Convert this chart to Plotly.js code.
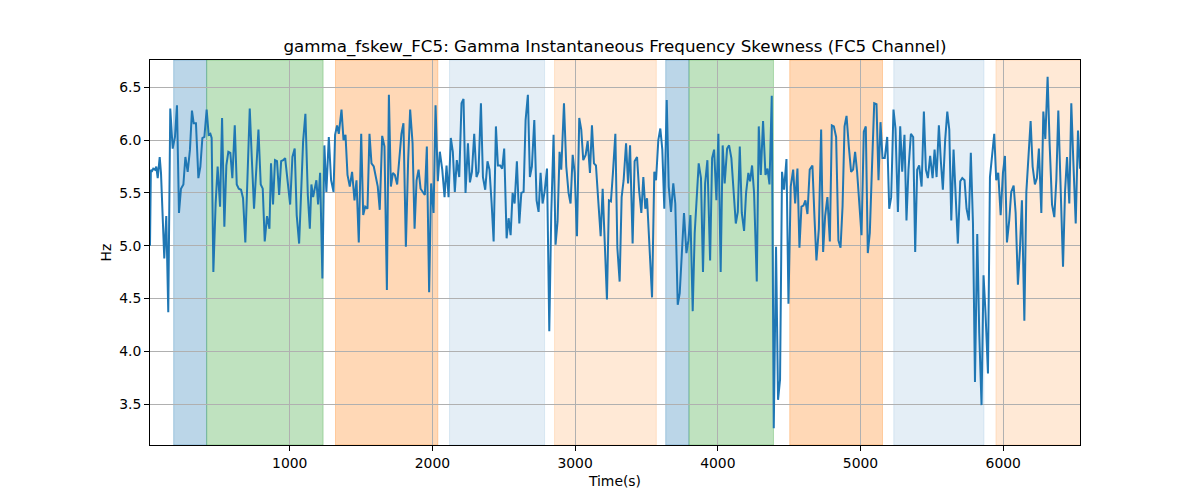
<!DOCTYPE html>
<html>
<head>
<meta charset="utf-8">
<script src="https://cdn.plot.ly/plotly-3.0.1.min.js"></script>
<style>
  body { margin: 0; background: #fff; }
  #chart { width: 1200px; height: 500px; }
</style>
</head>
<body>
<div id="chart"></div>
<script>
const chart_title = "gamma_fskew_FC5: Gamma Instantaneous Frequency Skewness (FC5 Channel)";
const x_label = "Time(s)";
const y_label = "Hz";

// sample times (s)
const times = [
    21,27,33,44,56,65,75,89,98,110,121,135,149,163,180,196,210,224,238,255,269,
    285,301,315,327,343,360,374,388,402,418,432,444,453,465,481,495,512,526,542,556,
    570,584,598,615,629,643,659,673,689,706,720,734,750,767,781,797,811,825,841,858,
    869,883,897,911,926,940,954,968,986,1003,1019,1035,1049,1066,1080,1094,1110,1127,1141,1152,
    1164,1176,1187,1199,1213,1229,1243,1257,1274,1290,1307,1318,1332,1344,1363,1377,1391,1405,1421,1437,
    1454,1468,1484,1501,1515,1529,1545,1559,1573,1589,1603,1617,1631,1648,1664,1681,1695,
    1709,1723,1737,1753,1769,1783,1797,1814,1830,1844,1861,1875,1889,1903,1917,1933,1947,1961,1977,1991,
    2008,2022,2038,2052,2069,2085,2099,2113,2129,2143,2157,2171,2188,2204,2218,2232,2249,2263,2277,2293,
    2309,2323,2340,2354,2370,2386,2400,2415,2429,2445,2459,2475,2489,2503,2520,2534,
    2548,2562,2576,2592,2609,2623,2639,2653,2669,2683,2697,2714,2730,2744,2758,2772,2786,2803,2819,2833,
    2849,2863,2877,2891,2903,2922,2938,2954,2968,2983,2997,3013,3029,3043,3057,3074,3088,3104,3118,3132,
    3146,3162,3179,3193,3207,3223,3237,3251,3265,3282,3296,3312,3326,3340,3357,3371,
    3385,3403,3417,3434,3448,3464,3478,3492,3504,3520,3539,3555,3567,3583,3597,3611,3625,3642,3656,3672,
    3688,3702,3719,3733,3749,3763,3780,3794,3808,3824,3838,3852,3866,3882,3896,3911,3927,3946,3960,3974,
    3990,4004,4020,4034,4048,4065,4079,4095,4109,4126,4140,4154,4168,4184,4198,4214,
    4226,4240,4254,4273,4287,4301,4317,4334,4348,4362,4378,4392,4408,4422,4436,4450,4464,4481,4495,4511,
    4528,4542,4558,4572,4586,4600,4614,4628,4644,4663,4677,4691,4708,4724,4738,4752,4768,4785,4799,4813,
    4829,4845,4860,4874,4888,4902,4918,4934,4948,4962,4976,4993,5007,5023,5037,5051,5065,
    5079,5096,5112,5126,5140,5154,5170,5187,5201,5215,5231,5245,5262,5278,5292,5308,5322,5336,5353,5369,
    5383,5397,5411,5428,5444,5458,5472,5488,5505,5519,5533,5549,5563,5577,5593,5608,5622,5636,5652,5668,
    5682,5699,5713,5729,5743,5759,5773,5788,5802,5818,5832,5848,5862,5876,5893,5907,
    5923,5937,5951,5965,5982,5998,6012,6026,6042,6056,6073,6087,6103,6117,6131,6148,6162,6176,6192,6206,
    6222,6236,6250,6267,6281,6295,6311,6325,6342,6358,6372,6386,6402,6419,6433,6447,6463,6477,6491,6508,
    6524,6538
];

// skewness values (Hz)
const skew_values = [
    5.00,5.72,5.70,5.73,5.72,5.75,5.64,5.84,5.69,5.24,4.88,5.28,4.37,6.30,5.92,6.03,6.33,5.31,5.54,5.58,5.84,
    5.70,5.91,6.28,6.16,6.16,5.64,5.75,6.02,6.03,6.29,6.05,6.06,6.02,4.75,5.40,5.75,5.37,6.21,5.18,5.76,
    5.89,5.88,5.64,6.14,5.58,5.54,5.53,5.45,5.03,5.64,6.30,5.84,5.35,5.75,6.10,5.58,5.54,5.04,5.28,5.16,
    5.78,5.39,5.81,5.80,5.48,5.80,5.81,5.83,5.61,5.39,5.84,5.92,5.29,5.02,5.50,5.99,6.25,5.48,5.16,5.58,
    5.46,5.56,5.62,5.39,5.69,4.69,5.95,5.51,6.03,5.62,5.51,6.05,6.14,6.06,6.29,6.00,6.05,5.67,5.56,5.70,
    5.43,5.62,5.03,6.06,5.29,5.37,5.35,6.06,5.78,5.75,5.67,5.56,5.34,6.04,5.94,4.58,6.43,
    5.56,5.69,5.67,5.58,5.88,6.06,6.16,4.99,5.81,6.29,5.97,5.16,5.62,5.72,5.54,5.51,5.48,5.94,4.56,5.59,
    5.31,6.33,5.61,5.89,5.72,5.46,5.76,5.46,6.02,5.89,5.51,5.81,5.65,6.35,6.39,5.50,5.97,5.60,5.70,6.06,
    5.65,5.70,6.35,5.65,5.53,5.80,5.72,5.40,5.04,6.13,5.76,5.76,5.73,5.92,5.07,5.26,
    5.10,5.50,5.40,5.80,5.21,5.50,5.51,6.19,6.43,5.65,5.75,6.19,5.43,5.32,5.69,5.40,5.51,5.73,4.19,5.31,
    6.05,5.01,5.23,5.89,5.72,6.35,5.75,5.50,5.40,5.86,5.69,5.09,6.21,6.10,5.81,5.86,5.99,5.69,6.14,5.78,
    5.76,5.43,5.09,5.54,4.99,4.49,5.43,5.42,5.69,6.06,4.98,4.66,5.46,5.62,5.97,5.59,
    5.95,5.02,5.80,5.84,5.53,5.31,5.65,5.35,5.45,4.99,4.51,5.70,5.62,6.00,6.11,5.91,5.35,6.38,5.56,5.32,
    5.59,5.40,4.44,4.55,4.90,5.31,4.93,5.05,5.29,4.38,5.12,5.40,5.78,5.64,4.75,5.59,5.81,4.86,5.83,5.91,
    5.43,6.06,4.75,5.95,5.59,5.92,5.95,5.83,5.50,5.21,5.32,5.94,5.31,5.14,5.50,5.69,
    5.61,5.76,5.50,4.66,6.13,5.67,6.18,5.67,5.73,5.58,6.42,3.27,4.99,3.54,3.73,5.70,5.53,5.82,4.45,5.56,
    5.72,5.40,5.73,4.98,5.37,5.38,5.43,5.30,5.72,5.76,5.28,4.86,5.16,6.10,4.94,5.28,5.46,5.04,6.14,6.13,
    6.03,5.05,4.98,5.37,6.13,6.23,5.94,5.70,5.72,5.89,5.70,5.32,5.10,6.08,6.13,4.93,5.12,
    5.69,6.35,6.34,5.62,6.17,5.83,5.83,6.03,5.35,5.46,6.29,6.11,5.32,6.13,5.70,6.05,5.24,5.72,6.06,6.03,
    4.94,5.72,5.76,5.56,6.27,5.72,5.64,5.85,5.64,5.91,5.65,6.14,5.80,5.53,6.00,6.27,6.10,5.24,5.91,5.46,
    5.02,5.61,5.64,5.62,5.35,5.24,5.88,5.21,3.71,5.11,4.17,3.49,4.72,4.36,3.79,5.65,
    5.91,6.06,5.62,5.69,5.29,5.69,5.85,5.03,5.24,5.51,5.57,5.31,4.63,4.96,5.43,4.29,5.51,5.81,6.18,5.75,
    5.58,5.64,5.92,5.31,6.27,6.01,6.60,5.97,5.39,5.27,5.62,6.28,5.62,4.80,5.51,5.84,5.40,6.35,5.81,5.21,
    6.09,5.73
];

// shaded segments
const span_starts = [187, 418, 1321, 2120, 2856, 3635, 3798, 4504, 5233, 5949];
const span_ends   = [418, 1234, 2038, 2786, 3569, 3798, 4390, 5154, 5865, 6600];
const span_kinds  = ["blue", "green", "orange", "blue_light", "orange_light",
                     "blue", "green", "orange", "blue_light", "orange_light"];

const x_ticks = [1000, 2000, 3000, 4000, 5000, 6000];
const y_ticks = [3.5, 4.0, 4.5, 5.0, 5.5, 6.0, 6.5];

class skew_chart {

    constructor(view) {
        this.chart_view = view;
        this.fills = {
            blue: "rgba(31,119,180,0.3)",
            green: "rgba(44,160,44,0.3)",
            orange: "rgba(255,127,14,0.3)",
            blue_light: "rgba(31,119,180,0.12)",
            orange_light: "rgba(255,127,14,0.17)"
        };
    }

    build_spans() {
        const shapes = [];
        for (let i = 0; i < span_starts.length; i++) {
            const fill = this.fills[span_kinds[i]];
            shapes.push({
                type: "rect", layer: "between",
                xref: "x", yref: "paper",
                x0: span_starts[i], x1: span_ends[i], y0: 0, y1: 1,
                fillcolor: fill,
                line: { color: fill, width: 1 }
            });
        }
        return shapes;
    }

    update_chart() {
        const font = "DejaVu Sans, sans-serif";
        const axis_common = {
            showgrid: true, gridcolor: "#b0b0b0", gridwidth: 1,
            zeroline: false, showline: true, mirror: true,
            linecolor: "#000", linewidth: 1,
            ticks: "outside", ticklen: 5, tickwidth: 1, tickcolor: "#000",
            tickfont: { family: font, size: 13.9, color: "#000" }
        };
        const traces = [{
            x: times, y: skew_values,
            type: "scatter", mode: "lines",
            line: { color: "#1f77b4", width: 2 },
            hoverinfo: "skip"
        }];
        const layout = {
            width: 1200, height: 500,
            margin: { l: 150, r: 120, t: 60, b: 55, pad: 0 },
            paper_bgcolor: "#fff", plot_bgcolor: "#fff",
            showlegend: false,
            title: {
                text: chart_title,
                font: { family: font, size: 16.7, color: "#000" },
                x: 0.5, xref: "paper", xanchor: "center",
                y: 0.908, yref: "container", yanchor: "middle"
            },
            xaxis: Object.assign({}, axis_common, {
                range: [21, 6538], tickvals: x_ticks,
                title: { text: x_label, font: { family: font, size: 13.9, color: "#000" }, standoff: 6 }
            }),
            yaxis: Object.assign({}, axis_common, {
                range: [3.112, 6.759], tickvals: y_ticks, tickformat: ".1f",
                title: { text: y_label, font: { family: font, size: 13.9, color: "#000" }, standoff: 4 }
            }),
            shapes: this.build_spans()
        };
        Plotly.newPlot(this.chart_view, traces, layout, { displayModeBar: false, staticPlot: true });
    }
}

new skew_chart(document.getElementById("chart")).update_chart();
</script>
</body>
</html>
